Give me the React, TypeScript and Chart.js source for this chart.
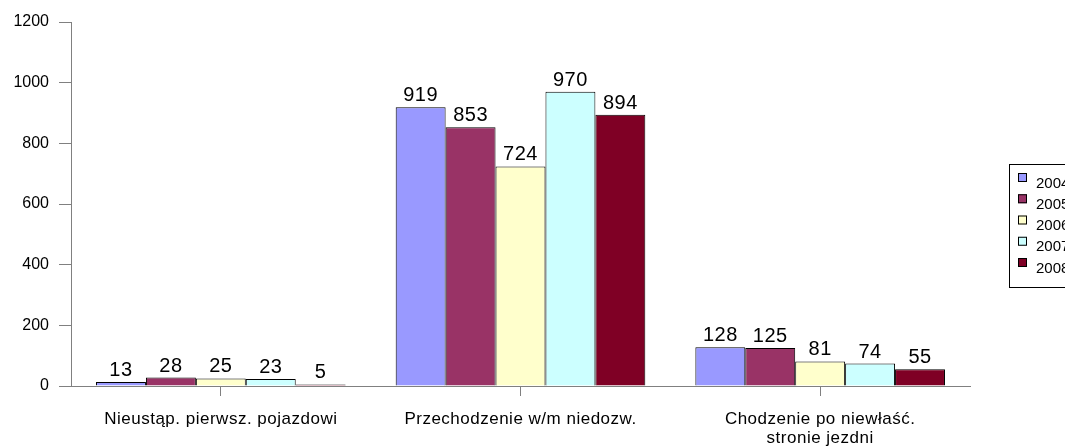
import React, { useEffect, useRef } from "react";
import { Chart, registerables } from "chart.js";

Chart.register(...registerables);

const categories: string[][] = [
  ["Nieustąp. pierwsz. pojazdowi"],
  ["Przechodzenie w/m niedozw."],
  ["Chodzenie po niewłaść.", "stronie jezdni"],
];
const years = ["2004", "2005", "2006", "2007", "2008"];
const values2004 = [13, 919, 128];
const values2005 = [28, 853, 125];
const values2006 = [25, 724, 81];
const values2007 = [23, 970, 74];
const values2008 = [5, 894, 55];
const colors = ["#9999FF", "#993366", "#FFFFCC", "#CCFFFF", "#7F0025"];
const yTicks = [0, 200, 400, 600, 800, 1000, 1200];

const FONT = "'Liberation Sans', Arial, sans-serif";

const labelsPlugin = {
  id: "valueLabels",
  afterDatasetsDraw(chart: any) {
    const ctx = chart.ctx;
    ctx.save();
    ctx.font = `20px ${FONT}`;
    (ctx as any).letterSpacing = "0.5px";
    ctx.fillStyle = "#000";
    ctx.textAlign = "center";
    ctx.textBaseline = "alphabetic";
    chart.data.datasets.forEach((ds: any, i: number) => {
      const meta = chart.getDatasetMeta(i);
      meta.data.forEach((bar: any, j: number) => {
        ctx.fillText(String(ds.data[j]), bar.x, bar.y - 6);
      });
    });
    // category labels
    ctx.font = `17px ${FONT}`;
    (ctx as any).letterSpacing = "0.5px";
    const xs = chart.scales.x;
    const baseY = xs.top + 38;
    categories.forEach((lines, i) => {
      const cx = xs.getPixelForValue(i);
      lines.forEach((ln, k) => {
        ctx.fillText(ln, cx, baseY + k * 19);
      });
    });
    ctx.restore();
  },
};

const legendPlugin = {
  id: "customLegend",
  afterDraw(chart: any) {
    const ctx = chart.ctx;
    ctx.save();
    const x0 = 1009, y0 = 164, w = 70, h = 123;
    ctx.fillStyle = "#fff";
    ctx.fillRect(x0, y0, w, h);
    ctx.strokeStyle = "#000";
    ctx.lineWidth = 1;
    ctx.strokeRect(x0 + 0.5, y0 + 0.5, w, h);
    ctx.font = `15px ${FONT}`;
    ctx.textBaseline = "alphabetic";
    ctx.textAlign = "left";
    years.forEach((yr, i) => {
      const top = y0 + 9 + i * 21.25;
      ctx.fillStyle = colors[i];
      ctx.fillRect(x0 + 9, top, 9, 9);
      ctx.strokeStyle = "#000";
      ctx.strokeRect(x0 + 9.5, top + 0.5, 8, 8);
      ctx.fillStyle = "#000";
      ctx.fillText(yr, x0 + 27, top + 14.5);
    });
    ctx.restore();
  },
};

export default function App() {
  const ref = useRef<HTMLCanvasElement>(null);
  useEffect(() => {
    const series = [values2004, values2005, values2006, values2007, values2008];
    const chart = new Chart(ref.current!, {
      type: "bar",
      data: {
        labels: categories.map((c) => c.join(" ")),
        datasets: series.map((d, i) => ({
          label: years[i],
          data: d,
          backgroundColor: colors[i],
          borderColor: "#000",
          borderWidth: 1,
          borderSkipped: "bottom",
          barPercentage: 1,
          categoryPercentage: 0.833,
        })),
      },
      options: {
        animation: false,
        responsive: false,
        layout: { padding: { top: 22, right: 95, left: 0, bottom: 0 } },
        plugins: { legend: { display: false }, tooltip: { enabled: false } },
        scales: {
          x: {
            grid: {
              display: true,
              drawOnChartArea: false,
              drawTicks: true,
              tickLength: 10,
              color: "#808080",
              offset: false,
            },
            border: { color: "#808080", width: 1 },
            ticks: { callback: () => "", font: { family: FONT, size: 15 }, maxRotation: 0 },
            afterFit(scale: any) {
              scale.height = 62;
            },
          },
          y: {
            min: 0,
            max: 1200,
            grid: { display: true, drawOnChartArea: false, tickLength: 12, color: "#808080" },
            border: { color: "#808080", width: 1 },
            afterBuildTicks(scale: any) {
              scale.ticks = yTicks.map((v) => ({ value: v }));
            },
            ticks: {
              callback: (v: any) => String(v),
              font: { family: FONT, size: 16 },
              color: "#000",
              padding: 10,
            },
            afterFit(scale: any) {
              scale.width = 71;
            },
          },
        },
      },
      plugins: [labelsPlugin, legendPlugin],
    });
    return () => chart.destroy();
  }, []);
  return (
    <div style={{ position: "fixed", left: 0, top: 0, width: 1065, height: 448, background: "#fff" }}>
      <canvas ref={ref} width={1065} height={448} />
    </div>
  );
}
